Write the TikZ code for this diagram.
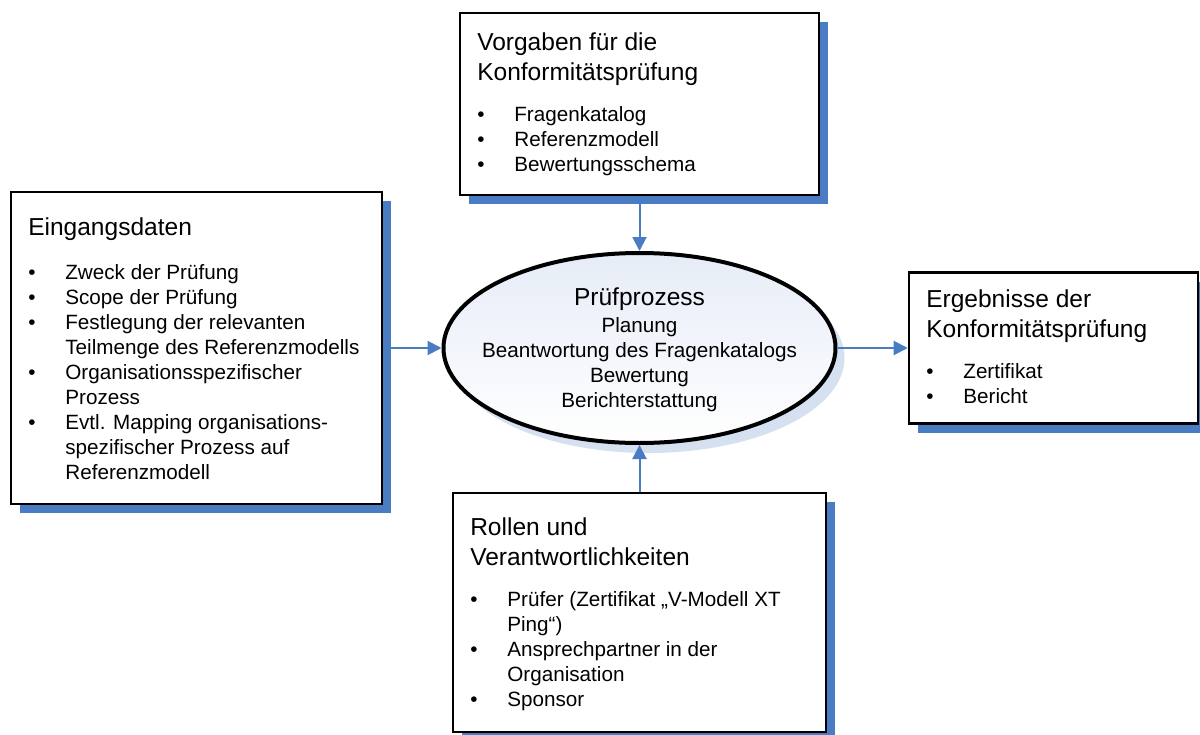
\documentclass[tikz,border=0pt]{standalone}
\usepackage{fontspec}
\setmainfont{Liberation Sans}
\usetikzlibrary{positioning, arrows.meta, shapes.geometric, shadows}

\definecolor{shadowblue}{HTML}{4A7CC4}
\definecolor{ellshadow}{HTML}{D5E0F0}
\definecolor{ellfill}{HTML}{E6ECF7}
\newcommand{\headfont}{\fontsize{18.4pt}{22.5pt}\selectfont}
\newcommand{\bodyfont}{\fontsize{15.5pt}{18.75pt}\selectfont}

\begin{document}
\begin{tikzpicture}[x=0.75pt,y=-0.75pt,>={Triangle[length=10.5pt,width=10.5pt]},
  box/.style={draw,rectangle,line width=1.9pt,fill=white,inner sep=0pt,
    drop shadow={shadow xshift=6.75pt,shadow yshift=-6.75pt,fill=shadowblue,opacity=1}},
  title/.style={anchor=base west,inner sep=0pt,font=\headfont},
  items/.style={anchor=base west,inner sep=0pt,font=\bodyfont},
  conn/.style={->,shadowblue,line width=1.5pt}]
  \useasboundingbox (0,0) rectangle (1200,735);

  % Pruefprozess (centre)
  \node[ellipse,draw,line width=3pt,minimum width=294pt,minimum height=142.5pt,
        top color=ellfill,bottom color=white,
        drop shadow={shadow xshift=6.75pt,shadow yshift=-7.5pt,fill=ellshadow,opacity=1}]
        (proc) at (639.5,348){};
  \node[inner sep=0pt,font=\bodyfont,yshift=-2.25pt] (proc-label) at (proc){%
    \begin{tabular}{@{}c@{}}
      {\headfont Prüfprozess}\\[1.5pt]
      Planung\\
      Beantwortung des Fragenkatalogs\\
      Bewertung\\
      Berichterstattung
    \end{tabular}};

  % Eingangsdaten (left)
  \node[box,minimum width=278.25pt,minimum height=234pt] (inp) at (196.5,348){};
  \node[title] (inp-title) at (28,235){Eingangsdaten};
  \node[items] (inp-list) at (28,279){%
    \begin{tabular}[t]{@{}l@{\hspace{22.4pt}}l@{}}
      \textbullet & Zweck der Prüfung\\
      \textbullet & Scope der Prüfung\\
      \textbullet & Festlegung der relevanten\\
                  & Teilmenge des Referenzmodells\\
      \textbullet & Organisationsspezifischer\\
                  & Prozess\\
      \textbullet & Evtl. Mapping organisations-\\
                  & spezifischer Prozess auf\\
                  & Referenzmodell
    \end{tabular}};

  % Vorgaben (top)
  \node[box,minimum width=269.25pt,minimum height=136.5pt] (spec) at (639.5,104){};
  \node[title] (spec-title) at (477,51){%
    \begin{tabular}[t]{@{}l@{}}Vorgaben für die\\ Konformitätsprüfung\end{tabular}};
  \node[items] (spec-list) at (477,122){%
    \begin{tabular}[t]{@{}l@{\hspace{22.4pt}}l@{}}
      \textbullet & Fragenkatalog\\
      \textbullet & Referenzmodell\\
      \textbullet & Bewertungsschema
    \end{tabular}};

  % Ergebnisse (right)
  \node[box,minimum width=216.75pt,minimum height=113.25pt] (res) at (1053.5,348){};
  \node[title] (res-title) at (926,307){%
    \begin{tabular}[t]{@{}l@{}}Ergebnisse der\\ Konformitätsprüfung\end{tabular}};
  \node[items] (res-list) at (926,378){%
    \begin{tabular}[t]{@{}l@{\hspace{22.4pt}}l@{}}
      \textbullet & Zertifikat\\
      \textbullet & Bericht
    \end{tabular}};

  % Rollen (bottom)
  \node[box,minimum width=279.75pt,minimum height=179.25pt] (roles) at (639.5,612.5){};
  \node[title] (roles-title) at (470,535){%
    \begin{tabular}[t]{@{}l@{}}Rollen und\\ Verantwortlichkeiten\end{tabular}};
  \node[items] (roles-list) at (470,606){%
    \begin{tabular}[t]{@{}l@{\hspace{22.4pt}}l@{}}
      \textbullet & Prüfer (Zertifikat „V-Modell XT\\
                  & Ping“)\\
      \textbullet & Ansprechpartner in der\\
                  & Organisation\\
      \textbullet & Sponsor
    \end{tabular}};

  % connectors
  \draw[conn] (inp) -- (proc);
  \draw[conn] (spec) -- (proc);
  \draw[conn] (roles) -- (proc);
  \draw[conn] (proc) -- (res);
\end{tikzpicture}
\end{document}
